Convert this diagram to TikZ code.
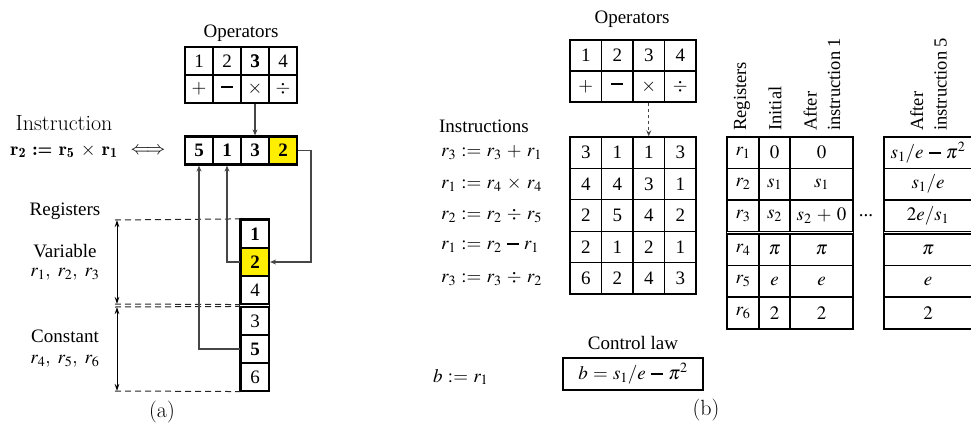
\documentclass[tikz,border=0pt]{standalone}
\usepackage{mathptmx}
\usepackage[no-math]{fontspec}
\setmainfont{Liberation Serif}
\newfontfamily\tms{Liberation Serif}
\usetikzlibrary{arrows.meta}
\newcommand{\fs}{\tms\fontsize{19}{23}\selectfont}
\newcommand{\lmf}{\fontfamily{lmr}\fontsize{22}{26}\selectfont}
\newcommand{\mmin}{\mathbin{\rule[0.24em]{0.62em}{0.11em}}}
\newcommand{\asg}{\mathrel{:=}}
\medmuskip=5mu plus 2mu minus 3mu
\thickmuskip=5mu plus 3mu
\definecolor{hl}{RGB}{255,238,0}
\definecolor{conncol}{RGB}{70,70,70}
\begin{document}
\begin{tikzpicture}[x=1pt,y=-1pt,font=\fs,
  lbl/.style={inner sep=0pt},
  ca/.style={draw,line width=1.1pt,minimum width=28pt,minimum height=28pt,inner sep=0pt},
  cthick/.style={ca,line width=2.2pt,font=\fs\bfseries},
  cb/.style={draw,line width=1.3pt,minimum width=31.5pt,minimum height=31.4pt,inner sep=0pt},
  cr/.style={draw,line width=1.3pt,minimum height=31.5pt,inner sep=0pt},
  conn/.style={draw=conncol,line width=1.2pt,-{Stealth[length=6pt,width=5pt]}},
  dsh/.style={draw=black!85,line width=1pt,dash pattern=on 6pt off 4pt},
  darr/.style={line width=1pt,{Stealth[length=7pt,width=4.5pt]}-{Stealth[length=7pt,width=4.5pt]}},
  hdr/.style={rotate=90,anchor=west,inner sep=0pt,align=left,font=\tms\fontsize{18.5}{23.5}\selectfont}]
\useasboundingbox (0,0) rectangle (971,428);

% ---------------- panel (a) ----------------
\node[lbl] (aoplbl) at (241,33) {Operators};
\foreach \t [count=\i] in {1,2,3,4}
  \node[ca] (aot\i) at ({171+28*\i},61) {\t};
\foreach \t [count=\i] in {$+$,$\mmin$,$\times$,$\div$}
  \node[ca] (aob\i) at ({171+28*\i},89) {\t};
\node[cthick] at (aot3) {3};

\node[cthick] (ai1) at (199,150.5) {5};
\node[cthick] (ai2) at (227,150.5) {1};
\node[cthick] (ai3) at (255,150.5) {3};
\node[cthick,fill=hl] (ai4) at (283,150.5) {2};

\node[lbl,font=\lmf] (ainstr) at (64,123) {Instruction};
\node[lbl,font=\fontfamily{lmr}\fontsize{19}{23}\selectfont\bfseries] (aeq) at (64,151) {r\textsubscript{2} := r\textsubscript{5} $\times$ r\textsubscript{1}};
\node[lbl] (aeqv) at (148,151) {$\Longleftrightarrow$};

\node[ca] (areg3) at (255,290) {4};
\node[ca] (areg4) at (255,321) {3};
\node[ca] (areg6) at (255,377) {6};
\node[cthick] (areg1) at (255,234) {1};
\node[cthick,fill=hl] (areg2) at (255,262) {2};
\node[cthick] (areg5) at (255,349) {5};
\draw[line width=1.1pt] (areg1.north west) rectangle (areg6.south east);

\node[lbl] (aregl) at (65,211) {Registers};
\node[lbl] (avar) at (65,251) {Variable};
\node[lbl] (avarr) at (65,274) {$r_1,\ r_2,\ r_3$};
\node[lbl] (acon) at (65,336) {Constant};
\node[lbl] (aconr) at (65,361) {$r_4,\ r_5,\ r_6$};

\coordinate (dl1) at (115,220);
\coordinate (dl2) at (115,304);
\coordinate (dl3) at (115,307);
\coordinate (dl4) at (115,391);
\draw[dsh] (dl1) -- (areg1.north west);
\draw[dsh] (dl2) -- (areg3.south west);
\draw[dsh] (dl3) -- (areg4.north west);
\draw[dsh] (dl4) -- (areg6.south west);
\coordinate (va1) at (117,220);
\coordinate (va2) at (117,304);
\coordinate (va3) at (117,307);
\coordinate (va4) at (117,391);
\draw[darr] (va1) -- (va2);
\draw[darr] (va3) -- (va4);

\draw[conn] (aob3.south) -- (ai3.north);
\draw[conn] (areg5.west) -| (ai1.south);
\draw[conn] (areg2.west) -| (ai2.south);
\coordinate (aturn) at (311,150.5);
\draw[conn] (ai4.east) -- (aturn) |- (areg2.east);

\node[lbl,font=\lmf] (alab) at (162,412) {(a)};

% ---------------- panel (b) ----------------
\node[lbl] (boplbl) at (632,19) {Operators};
\foreach \t [count=\i] in {1,2,3,4}
  \node[cb,minimum height=31pt] (bot\i) at ({554.25+31.5*\i},55.5) {\t};
\foreach \t [count=\i] in {$+$,$\mmin$,$\times$,$\div$}
  \node[cb,minimum height=31pt] (bob\i) at ({554.25+31.5*\i},86.5) {\t};

\foreach \row [count=\r] in {{3,1,1,3},{4,4,3,1},{2,5,4,2},{2,1,2,1},{6,2,4,3}} {
  \foreach \v [count=\c] in \row {
    \node[cb] (bi\r\c) at ({554.25+31.5*\c},{121.3+31.4*\r}) {\v};
  }
}
\draw[conn,dashed] (bob3.south) -- (bi13.north);

\node[lbl] (binstr) at (484,126) {Instructions};
\foreach \e [count=\r] in {{$r_3 \asg r_3 + r_1$},{$r_1 \asg r_4 \times r_4$},{$r_2 \asg r_2 \div r_5$},{$r_1 \asg r_2 \mmin r_1$},{$r_3 \asg r_3 \div r_2$}}
  \node[lbl,anchor=west] (be\r) at (441,{121.3+31.4*\r}) {\e};

% registers table
\foreach \a/\b/\c/\d/\y [count=\r] in {
  {$r_1$}/{$0$}/{$0$}/{$s_1/e\mmin\pi^2$}/152.75,
  {$r_2$}/{$s_1$}/{$s_1$}/{$s_1/e$}/184.25,
  {$r_3$}/{$s_2$}/{$s_2+0$}/{$2e/s_1$}/215.75,
  {$r_4$}/{$\pi$}/{$\pi$}/{$\pi$}/249.75,
  {$r_5$}/{$e$}/{$e$}/{$e$}/281.25,
  {$r_6$}/{$2$}/{$2$}/{$2$}/312.75} {
  \node[cr,minimum width=32pt] (bra\r) at (743,\y) {\a};
  \node[cr,minimum width=31pt] (brb\r) at (774.5,\y) {\b};
  \node[cr,minimum width=63pt] (brc\r) at (821.5,\y) {\c};
  \node[cr,minimum width=88pt] (brd\r) at (928,\y) {\d};
}
\draw[line width=1.3pt] (bra1.north west) rectangle (brc6.south east);
\draw[line width=1.3pt] (brd1.north west) rectangle (brd6.south east);
\node[lbl,anchor=base] (bdots) at (866,216) {...};

\node[hdr] (bh1) at (742,131) {Registers};
\node[hdr] (bh2) at (775,131) {Initial};
\node[hdr] (bh3) at (822,131) {After\\instruction 1};
\node[hdr] (bh4) at (928.5,131) {After\\instruction 5};

\node[lbl] (bcl) at (633,343) {Control law};
\node[draw,line width=1.3pt,minimum width=140pt,minimum height=32pt,inner sep=0pt] (bclbox) at (633,374) {$b = s_1/e \mmin \pi^2$};
\node[lbl,anchor=west] (bb) at (433,377) {$b \asg r_1$};

\node[lbl,font=\lmf] (blab) at (706,410) {(b)};
\end{tikzpicture}
\end{document}
